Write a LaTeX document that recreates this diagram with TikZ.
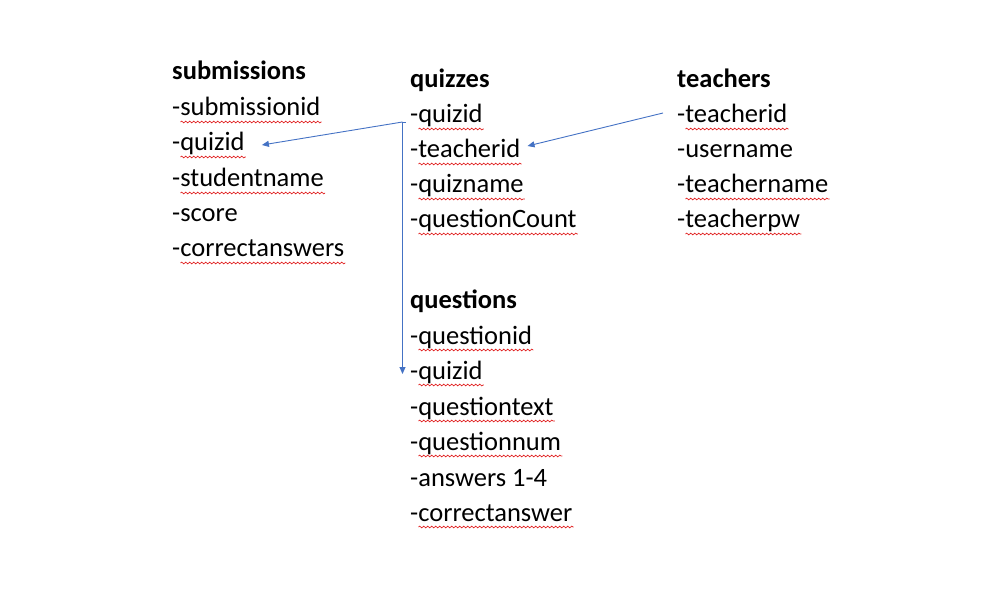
\documentclass[tikz,border=0pt]{standalone}
\usepackage{fontspec}
\setmainfont{Carlito}
\usetikzlibrary{arrows.meta,calc,decorations.pathmorphing}
\definecolor{linkblue}{HTML}{4472C4}
\definecolor{spellred}{HTML}{E02020}
\begin{document}
\begin{tikzpicture}[x=1pt,y=-1pt,
  fld/.style={anchor=base west,inner sep=0pt,font=\fontsize{26.5}{32}\selectfont},
  hdr/.style={fld,font=\fontsize{26.5}{32}\selectfont\bfseries},
  link/.style={draw=linkblue,line width=0.9pt},
  tip/.style={-{Triangle[length=7pt,width=6pt]}},
  wavy/.style={draw=spellred,line width=0.7pt,decorate,decoration={snake,amplitude=0.9pt,segment length=4pt}}]
\useasboundingbox (0,0) rectangle (989,607);
% submissions
\node[hdr] (s1) at (172,80) {submissions};
\node[fld] (s2) at (172,116) {-submissionid};
\node[fld] (s3) at (172,151) {-quizid};
\node[fld] (s4) at (172,187) {-studentname};
\node[fld] (s5) at (172,222) {-score};
\node[fld] (s6) at (172,257) {-correctanswers};
% quizzes
\node[hdr] (q1) at (410,88) {quizzes};
\node[fld] (q2) at (410,123) {-quizid};
\node[fld] (q3) at (410,158) {-teacherid};
\node[fld] (q4) at (410,193) {-quizname};
\node[fld] (q5) at (410,228) {-questionCount};
% teachers
\node[hdr] (t1) at (677,88) {teachers};
\node[fld] (t2) at (677,123) {-teacherid};
\node[fld] (t3) at (677,158) {-username};
\node[fld] (t4) at (677,193) {-teachername};
\node[fld] (t5) at (677,228) {-teacherpw};
% questions
\node[hdr] (u1) at (410,308) {questions};
\node[fld] (u2) at (410,344) {-questionid};
\node[fld] (u3) at (410,379) {-quizid};
\node[fld] (u4) at (410,415) {-questiontext};
\node[fld] (u5) at (410,450) {-questionnum};
\node[fld] (u6) at (410,486) {-answers 1-4};
\node[fld] (u7) at (410,521) {-correctanswer};
% spelling underlines
\foreach \n in {s2,s3,s4,s6,q2,q3,q4,q5,t2,t4,t5,u2,u3,u4,u5,u7}{
  \path[wavy] ($(\n.base west)+(8.5,6)$) -- ($(\n.base east)+(1,6)$);
}
% connectors
\coordinate (j) at ($(q2.base west)+(-7.5,-1)$);
\coordinate (jt) at ($(q2.base west)+(-4.5,-1)$);
\path[link] (jt) -- (j);
\path[link,tip] (j) -- ($(s3.base east)+(17,-6)$);
\path[link,tip] (j) -- ($(u3.base west)+(-7.5,-5)$);
\path[link,tip] ($(t2.base west)+(-14,-10)$) -- ($(q3.base east)+(7,-12)$);
\end{tikzpicture}
\end{document}
